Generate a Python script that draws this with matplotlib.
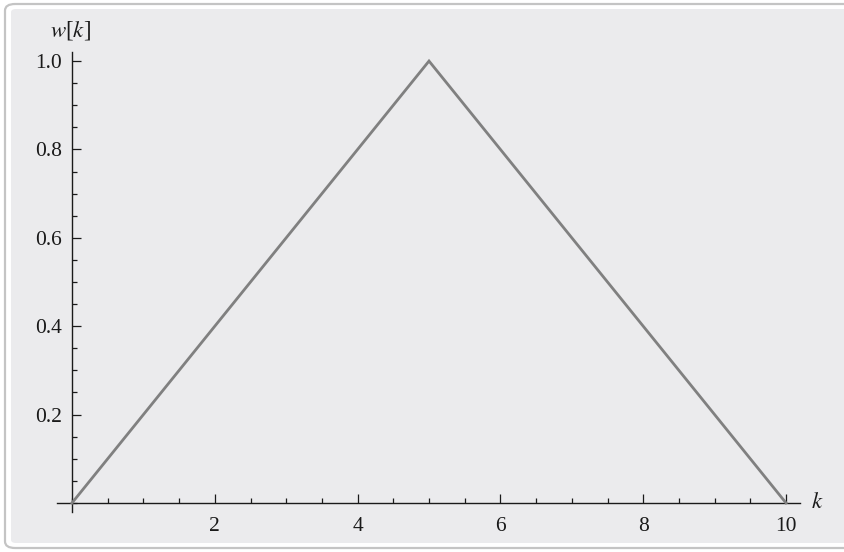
import numpy as np
import matplotlib.pyplot as plt
from matplotlib.patches import FancyBboxPatch
from matplotlib.ticker import MultipleLocator, FixedLocator

# triangular window w[k]
k = [0, 1, 2, 3, 4, 5, 6, 7, 8, 9, 10]
w = [0.0, 0.2, 0.4, 0.6, 0.8, 1.0, 0.8, 0.6, 0.4, 0.2, 0.0]
xticks = [2, 4, 6, 8, 10]
yticks = [0.2, 0.4, 0.6, 0.8, 1.0]

plt.rcParams['font.family'] = ['Liberation Serif', 'DejaVu Serif']
fs = 15.5
txt = '#1a1a1a'

fig = plt.figure(figsize=(8.45, 5.52), dpi=100)
W, H = 845, 552

# framed panel behind the plot
outer = FancyBboxPatch((5 / W, 4 / H), 860 / W, 544 / H,
                       boxstyle='round,pad=0,rounding_size=0.012',
                       transform=fig.transFigure, facecolor='white',
                       edgecolor='#c4c4c4', linewidth=1.6, zorder=-10)
inner = FancyBboxPatch((11 / W, 9 / H), 850 / W, 534 / H,
                       boxstyle='round,pad=0,rounding_size=0.006',
                       transform=fig.transFigure, facecolor='#ebebed',
                       edgecolor='none', zorder=-9)
fig.add_artist(outer)
fig.add_artist(inner)

ax = fig.add_axes([57 / W, 40.2 / H, 743.3 / W, 459.6 / H])
ax.set_facecolor('none')
ax.set_xlim(-0.21, 10.2)
ax.set_ylim(-0.02, 1.02)

ax.plot(k, w, color='#808080', linewidth=2.0, solid_joinstyle='miter',
        clip_on=False, zorder=3)

for s in ['top', 'right']:
    ax.spines[s].set_visible(False)
ax.spines['left'].set_position(('data', 0))
ax.spines['bottom'].set_position(('data', 0))
for s in ['left', 'bottom']:
    ax.spines[s].set_color(txt)
    ax.spines[s].set_linewidth(1.0)

ax.xaxis.set_major_locator(FixedLocator(xticks))
ax.xaxis.set_minor_locator(MultipleLocator(0.5))
ax.yaxis.set_major_locator(FixedLocator(yticks))
ax.yaxis.set_minor_locator(MultipleLocator(0.05))
ax.set_xticklabels([str(t) for t in xticks])
ax.set_yticklabels(['%.1f' % t for t in yticks])

ax.tick_params(which='both', direction='in', colors=txt, labelsize=fs,
               width=0.9)
ax.tick_params(which='major', length=6.5)
ax.tick_params(which='minor', length=3.6)
ax.tick_params(axis='x', which='major', pad=10)
ax.tick_params(axis='y', which='major', pad=7)

# axis labels at the ends of the axes
fig.text(70 / W, 1 - 31 / H, r'$w$[$k$]', fontsize=16.5, color=txt,
         ha='center', va='center', math_fontfamily='stix')
fig.text(817 / W, 1 - 503 / H, r'$k$', fontsize=16.5, color=txt,
         ha='center', va='center', math_fontfamily='stix')

fig.savefig('out.png', dpi=100)
